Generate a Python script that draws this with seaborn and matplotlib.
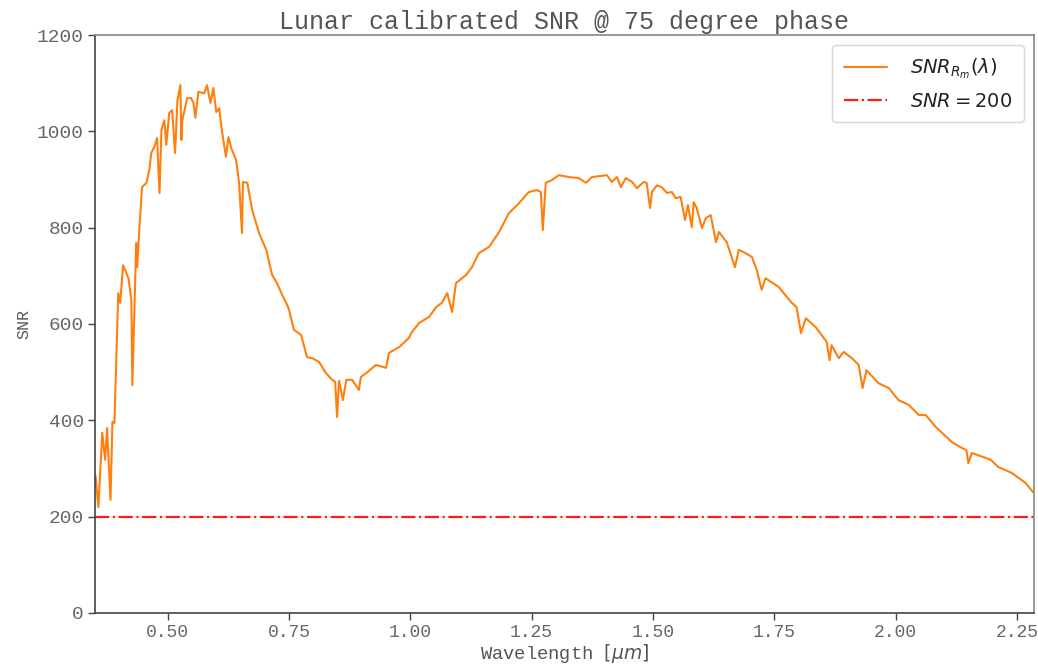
import numpy as np
import pandas as pd
import matplotlib
matplotlib.use("Agg")
import matplotlib.pyplot as plt
import seaborn as sns

# ---- data ----
wavelength = [
    0.351, 0.357, 0.365, 0.371, 0.375, 0.382, 0.386, 0.390, 0.398, 0.402,
    0.408, 0.419, 0.425, 0.427, 0.435, 0.437, 0.441, 0.447, 0.456, 0.462,
    0.466, 0.472, 0.478, 0.483, 0.487, 0.493, 0.497, 0.503, 0.509, 0.515,
    0.520, 0.526, 0.528, 0.530, 0.540, 0.548, 0.553, 0.557, 0.563, 0.575,
    0.581, 0.588, 0.594, 0.600, 0.606, 0.612, 0.620, 0.625, 0.631, 0.641,
    0.647, 0.653, 0.655, 0.664, 0.674, 0.688, 0.703, 0.715, 0.725, 0.736,
    0.746, 0.750, 0.760, 0.775, 0.787, 0.798, 0.812, 0.826, 0.839, 0.845,
    0.849, 0.853, 0.861, 0.868, 0.880, 0.894, 0.898, 0.909, 0.929, 0.950,
    0.956, 0.977, 0.997, 1.003, 1.018, 1.039, 1.053, 1.065, 1.076, 1.086,
    1.094, 1.115, 1.127, 1.141, 1.162, 1.183, 1.203, 1.224, 1.244, 1.261,
    1.269, 1.273, 1.279, 1.292, 1.306, 1.327, 1.347, 1.362, 1.374, 1.405,
    1.415, 1.426, 1.434, 1.444, 1.457, 1.467, 1.481, 1.487, 1.494, 1.498,
    1.508, 1.518, 1.529, 1.539, 1.547, 1.557, 1.566, 1.572, 1.580, 1.584,
    1.590, 1.601, 1.609, 1.619, 1.630, 1.636, 1.652, 1.669, 1.677, 1.691,
    1.704, 1.714, 1.724, 1.732, 1.759, 1.786, 1.796, 1.805, 1.815, 1.835,
    1.858, 1.864, 1.868, 1.883, 1.893, 1.910, 1.924, 1.932, 1.940, 1.965,
    1.986, 2.006, 2.027, 2.048, 2.062, 2.083, 2.116, 2.136, 2.146, 2.150,
    2.157, 2.186, 2.196, 2.212, 2.239, 2.268, 2.283,
]
snr = [
    286, 220, 374, 318, 384, 235, 397, 394, 664, 644,
    722, 695, 650, 473, 768, 718, 791, 884, 893, 920,
    955, 967, 986, 872, 1003, 1023, 972, 1038, 1044, 955,
    1065, 1096, 982, 1023, 1069, 1069, 1059, 1028, 1082, 1079,
    1096, 1059, 1090, 1040, 1048, 998, 947, 988, 965, 940,
    893, 789, 895, 893, 837, 789, 754, 702, 685, 660,
    640, 629, 588, 577, 531, 529, 521, 498, 484, 480,
    407, 482, 442, 484, 484, 463, 490, 498, 515, 509,
    540, 552, 571, 583, 602, 615, 635, 644, 664, 625,
    685, 702, 718, 747, 760, 791, 830, 851, 874, 878,
    874, 795, 893, 899, 909, 905, 903, 893, 905, 909,
    895, 905, 884, 903, 895, 882, 895, 893, 841, 874,
    888, 884, 872, 874, 861, 864, 816, 847, 801, 853,
    841, 799, 820, 826, 770, 791, 770, 718, 754, 747,
    739, 712, 671, 695, 677, 644, 635, 581, 612, 594,
    563, 525, 556, 529, 542, 529, 515, 467, 504, 477,
    467, 442, 432, 411, 411, 386, 355, 343, 338, 311,
    332, 322, 318, 303, 291, 270, 251,
]
snr_threshold = 200
title_text = "Lunar calibrated SNR @ 75 degree phase"
x_label = r"Wavelength $[\mu m]$"
y_label = "SNR"
curve_label = r"$SNR_{R_m}(\lambda)$"
threshold_label = r"$SNR = 200$"
x_ticks = [0.50, 0.75, 1.00, 1.25, 1.50, 1.75, 2.00, 2.25]
y_ticks = [0, 200, 400, 600, 800, 1000, 1200]

# ---- style ----
sns.set_style("ticks")
plt.rcParams["font.family"] = ["Liberation Mono", "DejaVu Sans"]
plt.rcParams["mathtext.fontset"] = "dejavusans"

fig = plt.figure(figsize=(10.38, 6.67), dpi=100, facecolor="white")
ax = fig.add_axes([0.0915, 0.081, 0.9045, 0.8665])
ax.set_facecolor("white")

df = pd.DataFrame({"wavelength": wavelength, "snr": snr})
sns.lineplot(data=df, x="wavelength", y="snr", ax=ax, color="#ff7f0e",
             linewidth=1.5, sort=False, estimator=None, label=curve_label)
ax.axhline(snr_threshold, color="#ff1a1a", linestyle="-.", linewidth=1.6,
           label=threshold_label)

ax.set_xlim(0.35, 2.285)
ax.set_ylim(0, 1200)
ax.set_xticks(x_ticks)
ax.set_xticklabels([f"{t:.2f}" for t in x_ticks])
ax.set_yticks(y_ticks)
ax.tick_params(axis="both", labelcolor="#666666",
               color="#444444", length=5, width=1, pad=3)
ax.tick_params(axis="y", labelsize=14)
ax.tick_params(axis="x", labelsize=13)
ax.set_title(title_text, fontsize=18, color="#555555", pad=4)
ax.set_xlabel(x_label, fontsize=13.5, color="#555555", labelpad=1)
ax.set_ylabel(y_label, fontsize=12, color="#555555", labelpad=4)
for side in ["left", "bottom", "top", "right"]:
    ax.spines[side].set_color("#444444")
    ax.spines[side].set_linewidth(1.2)
for side in ["top", "right"]:
    ax.spines[side].set_color("#888888")

leg = ax.legend(loc="upper right", fontsize=14, frameon=True,
                handlelength=2.2, borderpad=0.6, labelspacing=0.6,
                handletextpad=1.2)
leg.get_frame().set_edgecolor("#cccccc")
for t in leg.get_texts():
    t.set_color("#222222")

fig.savefig("out.png", dpi=100, facecolor="white")
